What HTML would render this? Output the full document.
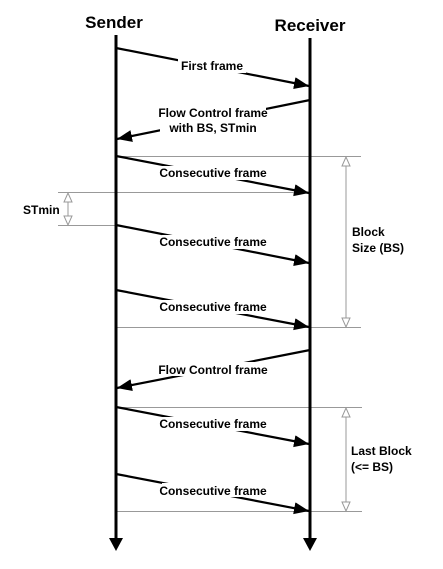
<!DOCTYPE html>
<html><head><style>html,body{margin:0;padding:0;background:#fff}svg{display:block}</style></head>
<body>
<svg width="443" height="569" xmlns="http://www.w3.org/2000/svg" font-family="Liberation Sans, Arial, sans-serif" font-weight="bold">
<defs>
<marker id="a" markerWidth="16" markerHeight="14" refX="15" refY="6" orient="auto" markerUnits="userSpaceOnUse"><path d="M0,0 L15,6 L0,12 Z" fill="#000"/></marker>
</defs>
<g stroke="#999" stroke-width="1">
<line x1="116" y1="156.5" x2="361" y2="156.5"/>
<line x1="58" y1="192.5" x2="310" y2="192.5"/>
<line x1="58" y1="225.5" x2="116" y2="225.5"/>
<line x1="116" y1="327.5" x2="361" y2="327.5"/>
<line x1="116" y1="407.5" x2="362" y2="407.5"/>
<line x1="116" y1="511.5" x2="362" y2="511.5"/>
<line x1="346" y1="160" x2="346" y2="324"/>
<line x1="346" y1="411" x2="346" y2="508"/>
<line x1="68" y1="196" x2="68" y2="222"/>
</g>
<g fill="#fff" stroke="#999" stroke-width="1">
<path d="M346,157 L342,166 L350,166 Z"/><path d="M346,327 L342,318 L350,318 Z"/>
<path d="M346,408 L342,417 L350,417 Z"/><path d="M346,511 L342,502 L350,502 Z"/>
<path d="M68,193 L64,202 L72,202 Z"/><path d="M68,225 L64,216 L72,216 Z"/>
</g>
<g stroke="#000" stroke-width="3">
<line x1="116" y1="35" x2="116" y2="540"/>
<line x1="310" y1="38" x2="310" y2="540"/>
</g>
<path d="M109,538 L123,538 L116,551 Z" fill="#000"/>
<path d="M303,538 L317,538 L310,551 Z" fill="#000"/>
<g stroke="#000" stroke-width="2.2" marker-end="url(#a)">
<line x1="116" y1="48" x2="309" y2="86"/>
<line x1="310" y1="100" x2="117" y2="139"/>
<line x1="116" y1="156" x2="309" y2="193"/>
<line x1="116" y1="225" x2="309" y2="263"/>
<line x1="116" y1="290" x2="309" y2="327"/>
<line x1="310" y1="350" x2="117" y2="388"/>
<line x1="116" y1="407" x2="309" y2="444"/>
<line x1="116" y1="474" x2="309" y2="511"/>
</g>
<g fill="#fff">
<rect x="178" y="59" width="68" height="14"/>
<rect x="160" y="105" width="106" height="30"/>
<rect x="162" y="166" width="102" height="14"/>
<rect x="162" y="235" width="102" height="14"/>
<rect x="162" y="300" width="102" height="14"/>
<rect x="160" y="362" width="106" height="14"/>
<rect x="162" y="417" width="102" height="14"/>
<rect x="162" y="483" width="102" height="14"/>
</g>
<g font-size="12" text-anchor="middle" fill="#000">
<text x="212" y="70">First frame</text>
<text x="213" y="117">Flow Control frame</text>
<text x="213" y="132">with BS, STmin</text>
<text x="213" y="177">Consecutive frame</text>
<text x="213" y="246">Consecutive frame</text>
<text x="213" y="311">Consecutive frame</text>
<text x="213" y="374">Flow Control frame</text>
<text x="213" y="428">Consecutive frame</text>
<text x="213" y="495">Consecutive frame</text>
</g>
<g font-size="12" fill="#000">
<text x="23" y="214">STmin</text>
<text x="352" y="236">Block</text>
<text x="352" y="252">Size (BS)</text>
<text x="351" y="455">Last Block</text>
<text x="351" y="471">(&lt;= BS)</text>
</g>
<g font-size="17" text-anchor="middle" fill="#000">
<text x="114" y="28">Sender</text>
<text x="310" y="31">Receiver</text>
</g>
</svg>
</body></html>
